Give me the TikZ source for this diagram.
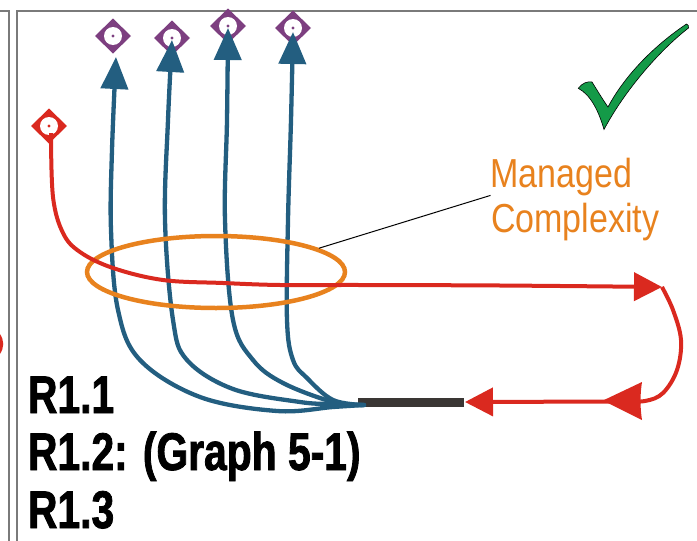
\documentclass[tikz,border=0pt]{standalone}
\usepackage{fontspec}
\setmainfont{Liberation Sans}
\newfontfamily\mcfont[FakeStretch=0.84]{Liberation Sans}
\newfontfamily\rfont[FakeStretch=0.77,FakeBold=1.5]{Liberation Sans}
\usetikzlibrary{arrows.meta,shapes.geometric}
\definecolor{rblue}{HTML}{235E80}
\definecolor{rred}{HTML}{DA291F}
\definecolor{rorange}{HTML}{E8821E}
\definecolor{rpurple}{HTML}{7D3F80}
\definecolor{rgreen}{HTML}{149A48}
\definecolor{rgray}{HTML}{7A7A7A}
\definecolor{rbar}{HTML}{3A3634}
\tikzset{
  marker/.style={diamond, fill=#1, minimum width=36, minimum height=35, inner sep=0, outer sep=0,
    path picture={\fill[white] (path picture bounding box.center) circle (9);
                  \fill[#1] (path picture bounding box.center) circle (1.6);}},
  panel/.style={draw=rgray, line width=1.3},
  blueline/.style={draw=rblue, line width=4.3, line cap=round, -{Triangle[length=32,width=27]}},
  redline/.style={draw=rred, line width=4},
  mctext/.style={text=rorange, font=\mcfont\fontsize{40.5}{45}\selectfont, inner sep=0, outer sep=0},
  rtext/.style={text=black, font=\rfont\bfseries\fontsize{53}{57}\selectfont, inner sep=0, outer sep=0, anchor=base west},
}
\begin{document}
\begin{tikzpicture}[x=1pt,y=-1pt]
\useasboundingbox (0,0) rectangle (697,541);
% panel frames
\draw[panel] (0,11) -- (9,11) -- (9,541);
\draw[panel] (697,11) -- (17,11) -- (17,541);
% partial red shape at the left edge
\draw[redline, line width=3] (-2,334) .. controls (3,340) and (3,348) .. (-2,354);
% markers
\node[marker=rpurple] (m1) at (113,36) {};
\node[marker=rpurple] (m2) at (172,38) {};
\node[marker=rpurple] (m3) at (228,26) {};
\node[marker=rpurple] (m4) at (293,28) {};
\node[marker=rred] (rm) at (49,126) {};
% black bar
\coordinate (barL) at (358,402.5);
\coordinate (barR) at (464,402.5);
\draw[rbar, line width=9] (barL) -- (barR);
% coordinates
\coordinate (conv) at (364,405);
\coordinate (t1) at (116,57);
\coordinate (t2) at (172,40);
\coordinate (t3) at (228,28);
\coordinate (t4) at (293,32);
% blue arrows
\draw[blueline] plot[smooth, tension=0.6] coordinates {(conv) (333,407) (277,411) (200,397) (140,360) (118,310) (111,230) (112,150) (t1)};
\draw[blueline] plot[smooth, tension=0.6] coordinates {(conv) (333,404) (300,402) (233,389) (187,360) (173,320) (165,220) (168,120) (t2)};
\draw[blueline] plot[smooth, tension=0.6] coordinates {(conv) (333,402) (283,383) (253,360) (233,320) (225,220) (227,120) (t3)};
\draw[blueline] plot[smooth, tension=0.6] coordinates {(conv) (333,400) (307,378) (293,360) (287,320) (288,220) (291,120) (t4)};
% orange ellipse
\node[ellipse, draw=rorange, line width=4.5, minimum width=258, minimum height=72, inner sep=0] (ell) at (216,272) {};
% red path
\coordinate (rstart) at ([xshift=2pt,yshift=-7pt]rm.center);
\coordinate (rturn) at (662,287);
\coordinate (rend) at (465,402);
\draw[redline, -{Triangle[length=28,width=28]}] plot[smooth, tension=0.6] coordinates {(rstart) (53,197) (63,233) (80,252) (113,268) (163,280) (223,283) (280,285) (360,285) (500,285.5) (rturn)};
\draw[redline, -{Triangle[length=28,width=28]}] plot[smooth, tension=0.6] coordinates {(rturn) (673,310) (681,340) (677,370) (663,393) (645,401) (620,401.5)} -- (rend);
\fill[rred] (603,400.5) -- (642,382) .. controls (640,395) and (640,407) .. (642,420) -- cycle;
% check mark
\filldraw[fill=rgreen, draw=black, line width=0.6]
  (578.3,88.3) .. controls (582,83) and (588,81) .. (592,82)
  .. controls (597,90) and (603,100) .. (608,107)
  .. controls (625,75) and (655,45) .. (686.5,24)
  .. controls (688,24.5) and (689,26) .. (688.5,28)
  .. controls (660,50) and (625,90) .. (604,129.5)
  .. controls (599,112) and (591,95) .. (578.3,88.3) -- cycle;
% text
\node[mctext, anchor=base west] (mg) at (490.5,187) {Managed};
\node[mctext, anchor=base west] (cx) at (491,232) {Complexity};
\draw[black, line width=1] (ell.13) -- (mg.south west);
\node[rtext] (r1) at (28,413) {R1.1};
\node[rtext] (r2) at (28,470) {R1.2: (Graph 5-1)};
\node[rtext] (r3) at (28,528) {R1.3};
\end{tikzpicture}
\end{document}
